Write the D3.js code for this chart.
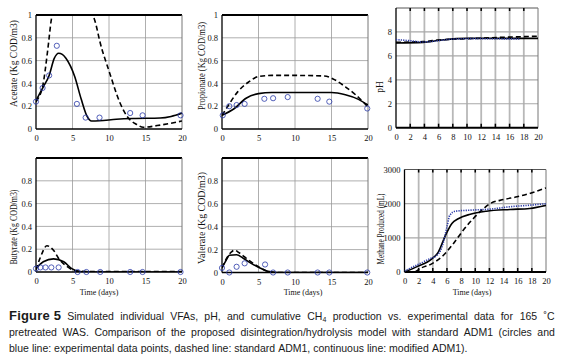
<!DOCTYPE html>
<html><head><meta charset="utf-8">
<script src="https://cdn.jsdelivr.net/npm/d3@7"></script>
<style>body{margin:0;background:#fff}svg{display:block}</style>
</head><body>
<svg id="c" width="561" height="361"></svg>
<script>
// ---------- DATA ----------
// Acetate
const acetateObsX = [0, 0.9, 1.8, 2.85, 5.6, 6.8, 8.7, 12.9, 14.6, 19.8];
const acetateObsY = [0.24, 0.36, 0.47, 0.73, 0.22, 0.10, 0.10, 0.14, 0.12, 0.12];
const acetateModX = [0, 0.5, 1, 1.8, 2.5, 3.1, 3.6, 4.1, 5.3, 6.2, 7, 7.6, 8.7, 11, 13.3, 17, 18.5, 20];
const acetateModY = [0.25, 0.31, 0.37, 0.47, 0.62, 0.665, 0.655, 0.62, 0.46, 0.26, 0.11, 0.07, 0.072, 0.085, 0.092, 0.096, 0.11, 0.14];
const acetateStdX = [0, 0.4, 0.9, 1.6, 2.1, 2.6, 3.5, 5, 6.5, 7.5, 8.2, 8.7, 10.1, 11.5, 12.6, 13.8, 14.7, 16.6, 20];
const acetateStdY = [0.24, 0.28, 0.37, 0.69, 0.96, 1.1, 1.25, 1.3, 1.2, 1.05, 0.92, 0.78, 0.49, 0.23, 0.1, 0.04, 0.015, 0.03, 0.07];
// Propionate
const propObsX = [0.1, 1, 2, 3.1, 5.8, 7, 9, 13.1, 14.7, 19.9];
const propObsY = [0.12, 0.2, 0.21, 0.22, 0.265, 0.27, 0.28, 0.265, 0.24, 0.18];
const propModX = [0, 1.7, 3.3, 5, 6.8, 10, 15, 16.9, 18.7, 20];
const propModY = [0.12, 0.18, 0.27, 0.31, 0.32, 0.32, 0.32, 0.30, 0.26, 0.21];
const propStdX = [0, 0.8, 2.2, 3.6, 5, 6.8, 10, 14, 15.5, 16.9, 18.3, 19.9];
const propStdY = [0.12, 0.2, 0.33, 0.41, 0.46, 0.47, 0.47, 0.465, 0.43, 0.37, 0.3, 0.2];
// pH
const phModX = [0, 3.8, 6.1, 8.5, 9.9, 20];
const phModY = [7.08, 7.13, 7.3, 7.44, 7.47, 7.46];
const phStdX = [0, 3.8, 5.6, 7.5, 10.4, 15, 20];
const phStdY = [7.13, 7.19, 7.3, 7.38, 7.44, 7.55, 7.64];
const phObsX = [0, 1.9, 3.8, 5.6, 7.5, 10.4, 17.4];
const phObsY = [7.36, 7.27, 7.16, 7.24, 7.38, 7.44, 7.41];
// Butyrate
const butObsX = [0, 0.6, 1.3, 2.1, 3.1, 5.7, 6.9, 8.8, 12.9, 14.6, 19.8];
const butObsY = [0.03, 0.04, 0.04, 0.04, 0.04, 0, 0, 0, 0, 0, 0];
const butModX = [0, 1, 2.4, 3.8, 4.9, 6, 7, 20];
const butModY = [0.03, 0.09, 0.115, 0.09, 0.03, 0.005, 0, 0];
const butStdX = [0, 0.55, 1.5, 2.4, 3.2, 4.2, 5.6, 7, 20];
const butStdY = [0.02, 0.12, 0.23, 0.19, 0.11, 0.05, 0.008, 0.005, 0.005];
// Valerate
const valObsX = [0, 1, 2, 3.1, 5.9, 7, 9, 13.1, 14.7, 19.9];
const valObsY = [0.04, 0, 0.05, 0.08, 0.07, 0, 0, 0, 0, 0];
const valModX = [0, 0.6, 1, 2, 2.9, 4, 5.2, 6.3, 7.5, 20];
const valModY = [0.04, 0.11, 0.15, 0.155, 0.125, 0.08, 0.04, 0.01, 0, 0];
const valStdX = [0, 0.6, 1.3, 1.7, 2.4, 3.6, 5, 6.3, 7.5, 20];
const valStdY = [0.04, 0.12, 0.18, 0.195, 0.17, 0.11, 0.05, 0.01, 0, 0];
// Methane
const ch4ObsX = [0, 1.7, 3.6, 4.6, 5.3, 6, 6.4, 7.2, 9.3, 12.1, 14.9, 17.7, 20];
const ch4ObsY = [30, 200, 390, 490, 730, 1320, 1660, 1780, 1810, 1840, 1910, 1955, 2000];
const ch4ModX = [0, 1.7, 3.9, 4.8, 5.7, 6.7, 7.6, 9.3, 11.6, 14.9, 17.7, 20];
const ch4ModY = [0, 150, 390, 590, 1030, 1420, 1560, 1690, 1780, 1830, 1860, 1950];
const ch4StdX = [1.5, 2.2, 3.9, 5.5, 6.9, 8.3, 9.7, 11.2, 12.1, 14, 15.9, 17.7, 20];
const ch4StdY = [0, 100, 245, 490, 830, 1220, 1560, 1860, 2000, 2120, 2200, 2300, 2460];

// Tick labels
const xTicks5 = [0, 5, 10, 15, 20];
const xTicks2 = [0, 2, 4, 6, 8, 10, 12, 14, 16, 18, 20];
const vfaTicks = [0, 0.2, 0.4, 0.6, 0.8, 1];
const vfaTicksNo1 = [0, 0.2, 0.4, 0.6, 0.8];
const phTicks = [0, 2, 4, 6, 8];
const ch4Ticks = [0, 1000, 2000, 3000];

const yTitles = ["Acetate (Kg COD/m3)", "Propionate (Kg COD/m3)", "pH", "Butyrate (Kg COD/m3)", "Valerate (Kg COD/m3)", "Methane Produced (mL)"];
const xTitle = "Time (days)";

const zip = (xs, ys) => xs.map((x, i) => [x, ys[i]]);

const panels = [
  {box: [36, 15, 182, 129], ymax: 1, xt: xTicks5, yt: vfaTicks, title: yTitles[0], tx: 15, ty: 63.5, tl: 87,
   obs: zip(acetateObsX, acetateObsY), mod: zip(acetateModX, acetateModY), std: zip(acetateStdX, acetateStdY), grid: "thin"},
  {box: [222, 15, 368, 129], ymax: 1, xt: xTicks5, yt: vfaTicks, title: yTitles[1], tx: 203, ty: 66, tl: 88,
   obs: zip(propObsX, propObsY), mod: zip(propModX, propModY), std: zip(propStdX, propStdY), grid: "thin"},
  {box: [396, 8, 538, 127.7], ymax: 10, xt: xTicks2, yt: phTicks, title: yTitles[2], tx: 381, ty: 87, tl: 0,
   obsLine: zip(phObsX, phObsY), mod: zip(phModX, phModY), std: zip(phStdX, phStdY), grid: "thick", fmt: d => d},
  {box: [36, 158, 182, 272], ymax: 1, xt: xTicks5, yt: vfaTicksNo1, title: yTitles[3], tx: 15, ty: 227, tl: 75,
   obs: zip(butObsX, butObsY), mod: zip(butModX, butModY), std: zip(butStdX, butStdY), grid: "thin"},
  {box: [222, 158, 368, 272.5], ymax: 1, xt: xTicks5, yt: vfaTicksNo1, title: yTitles[4], tx: 203, ty: 218, tl: 92,
   obs: zip(valObsX, valObsY), mod: zip(valModX, valModY), std: zip(valStdX, valStdY), grid: "thin"},
  {box: [404.5, 169.5, 546, 272], ymax: 3000, xt: xTicks2, yt: ch4Ticks, title: yTitles[5], tx: 382, ty: 229, tl: 71,
   obsLine: zip(ch4ObsX, ch4ObsY), mod: zip(ch4ModX, ch4ModY), std: zip(ch4StdX, ch4StdY), grid: "thick", fmt: d => d}
];

const svg = d3.select("#c");
const serif = "'Liberation Serif','Times New Roman',serif";
const defs = svg.append("defs");

panels.forEach((p, i) => {
  const [x0, y0, x1, y1] = p.box;
  const x = d3.scaleLinear().domain([0, 20]).range([x0, x1]);
  const y = d3.scaleLinear().domain([0, p.ymax]).range([y1, y0]);
  const g = svg.append("g");
  defs.append("clipPath").attr("id", "clip" + i).append("rect")
    .attr("x", x0).attr("y", y0).attr("width", x1 - x0).attr("height", y1 - y0);

  const thick = p.grid === "thick";
  g.selectAll(".vg").data(p.xt.filter(d => d > 0 && d < 20)).join("line")
    .attr("x1", d => x(d)).attr("x2", d => x(d)).attr("y1", y0).attr("y2", y1)
    .attr("stroke", thick ? "#b8b8b8" : "#9a9a9a").attr("stroke-width", thick ? 1.8 : 0.8);
  g.selectAll(".hg").data(p.yt.filter(d => d > 0 && d < p.ymax)).join("line")
    .attr("x1", x0).attr("x2", x1).attr("y1", d => y(d)).attr("y2", d => y(d))
    .attr("stroke", thick ? "#a8a8a8" : "#9a9a9a").attr("stroke-width", thick ? 1.2 : 0.8);
  // frame
  g.append("line").attr("x1", x0).attr("x2", x1).attr("y1", y0).attr("y2", y0)
    .attr("stroke", thick ? "#555" : "#000").attr("stroke-width", thick ? 1 : 2.2);
  g.append("line").attr("x1", x1).attr("x2", x1).attr("y1", y0).attr("y2", y1)
    .attr("stroke", "#777").attr("stroke-width", 1);
  g.append("line").attr("x1", x0).attr("x2", x0).attr("y1", y0).attr("y2", y1)
    .attr("stroke", "#000").attr("stroke-width", 1.3);
  g.append("line").attr("x1", x0).attr("x2", x1).attr("y1", y1).attr("y2", y1)
    .attr("stroke", "#000").attr("stroke-width", thick ? 2 : 1.5);

  const fmt = p.fmt || (d => d === 0 ? "0" : d === 1 ? "1" : d3.format(".1f")(d));
  const xa = g.append("g").attr("transform", `translate(0,${y1})`)
    .call(d3.axisBottom(x).tickValues(p.xt).tickFormat(d => d).tickSize(0).tickPadding(6));
  const ya = g.append("g").attr("transform", `translate(${x0},0)`)
    .call(d3.axisLeft(y).tickValues(p.yt).tickFormat(fmt).tickSize(0).tickPadding(4));
  [xa, ya].forEach(a => {
    a.select(".domain").remove();
    a.selectAll("text").attr("font-family", serif).attr("font-size", 8.5).attr("fill", "#111");
  });
  if (thick) {
    g.selectAll(".tk").data(p.xt.filter(d => d > 0 && d < 20)).join("line")
      .attr("x1", d => x(d)).attr("x2", d => x(d)).attr("y1", y1 - 4).attr("y2", y1)
      .attr("stroke", "#000").attr("stroke-width", 1.5);
    g.selectAll(".tk2").data(p.xt.filter(d => d > 0 && d < 20)).join("line")
      .attr("x1", d => x(d)).attr("x2", d => x(d)).attr("y1", y0).attr("y2", y0 + 3)
      .attr("stroke", "#000").attr("stroke-width", 1.5);
  }

  const tt = svg.append("text").attr("transform", `translate(${p.tx},${p.ty}) rotate(-90)`)
    .attr("text-anchor", "middle").attr("dominant-baseline", "middle")
    .attr("font-family", serif).attr("font-size", 9.5).attr("fill", "#111").text(p.title);
  if (p.tl) tt.attr("textLength", p.tl).attr("lengthAdjust", "spacingAndGlyphs");

  const line = d3.line().x(d => x(d[0])).y(d => y(d[1])).curve(d3.curveMonotoneX);
  const lg = g.append("g").attr("clip-path", `url(#clip${i})`);
  lg.append("path").attr("d", line(p.std)).attr("fill", "none").attr("stroke", "#000")
    .attr("stroke-width", 1.6).attr("stroke-dasharray", "5,3");
  lg.append("path").attr("d", line(p.mod)).attr("fill", "none").attr("stroke", "#000")
    .attr("stroke-width", 1.6);
  if (p.obsLine) {
    lg.append("path").attr("d", line(p.obsLine)).attr("fill", "none").attr("stroke", "#2a3aa8")
      .attr("stroke-width", 1.6).attr("stroke-dasharray", "1.2,1.2");
  }
  if (p.obs) {
    g.selectAll(".pt").data(p.obs).join("circle")
      .attr("cx", d => x(d[0])).attr("cy", d => y(d[1])).attr("r", 2.6)
      .attr("fill", "none").attr("stroke", "#2a3aa8").attr("stroke-width", 0.8);
  }
});

[[99, 295], [303, 295], [472, 295]].forEach(([cx, cy]) => {
  svg.append("text").attr("x", cx).attr("y", cy).attr("text-anchor", "middle")
    .attr("font-family", serif).attr("font-size", 8).attr("fill", "#111").text(xTitle);
});

// caption
const sans = "'Liberation Sans',Arial,sans-serif";
const capLines = [
  {y: 319.5, justify: true, words: [{t: "Figure 5", bold: true}, "Simulated", "individual", "VFAs,", "pH,", "and", "cumulative", {t: "CH", sub: "4"}, "production", "vs.", "experimental", "data", "for", "165", "˚C"]},
  {y: 335.5, justify: true, words: ["pretreated", "WAS.", "Comparison", "of", "the", "proposed", "disintegration/hydrolysis", "model", "with", "standard", "ADM1", "(circles", "and"]},
  {y: 351.5, justify: false, words: ["blue", "line:", "experimental", "data", "points,", "dashed", "line:", "standard", "ADM1,", "continuous", "line:", "modified", "ADM1)."]}
];
const capX0 = 9, capX1 = 555;
capLines.forEach(L => {
  const nodes = L.words.map(w => {
    const t = svg.append("text").attr("y", L.y).attr("font-family", sans).attr("font-size", 10.5).attr("fill", "#1a1a1a");
    if (typeof w === "string") t.text(w);
    else if (w.bold) t.attr("font-weight", "bold").attr("font-size", 13)
      .attr("textLength", 52).attr("lengthAdjust", "spacing").text(w.t);
    else { t.append("tspan").text(w.t); t.append("tspan").attr("font-size", 7).attr("dy", 2.5).text(w.sub); }
    return t;
  });
  const widths = nodes.map((n, i) => (typeof L.words[i] === "object" && L.words[i].bold) ? 52 : n.node().getBBox().width);
  const total = widths.reduce((a, b) => a + b, 0);
  const gap = L.justify ? (capX1 - capX0 - total) / (nodes.length - 1) : 2.92;
  let cx = capX0;
  nodes.forEach((n, i) => { n.attr("x", cx); cx += widths[i] + gap; });
});
</script>
</body></html>
